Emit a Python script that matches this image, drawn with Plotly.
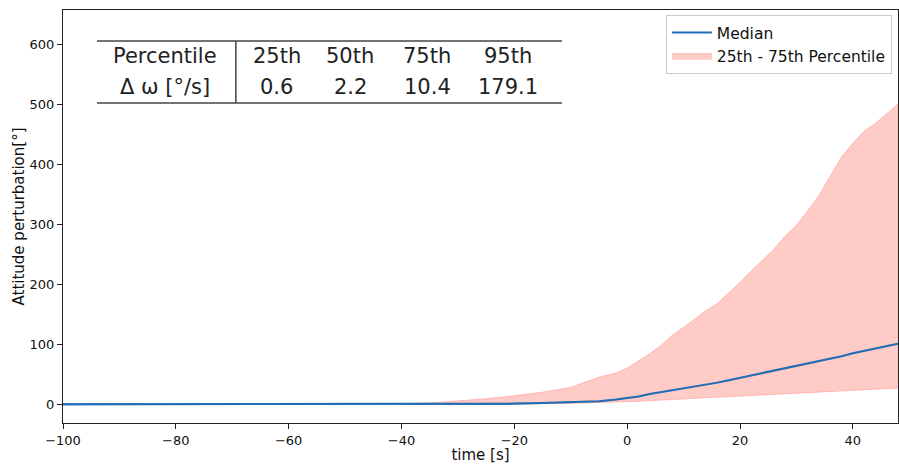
import plotly.graph_objects as go

# ---- data ----
time_s = [-100, -80, -60, -40, -35, -30, -25, -20, -15, -10, -5, -2, 0, 2, 4, 6, 8, 10, 12, 14, 16,
          18, 20, 22, 24, 26, 28, 30, 32, 34, 36, 38, 40, 42, 44, 46, 48]
median = [0, 0, 0, 0, 0.2, 0.4, 0.7, 1, 2, 3, 5, 8, 10, 13, 17, 20, 23, 26, 29, 32, 36,
          40, 44, 48, 52, 56, 60, 63, 67, 71, 76, 80, 85, 89, 93, 97, 101]
p25 = [0, 0, 0, 0, 0, 0.1, 0.3, 0.5, 1, 1.5, 2.5, 3.3, 4, 5, 6, 7, 8, 9, 10, 11, 12,
       13, 14, 15, 16, 17, 18, 19, 20, 21, 22, 23, 24, 25, 25.5, 26.5, 27]
p75 = [0, 0, 0, 0.5, 2, 5, 9, 14, 20, 28, 45, 52, 60, 72, 84, 98, 115, 128, 142, 156, 168,
       185, 203, 222, 240, 258, 280, 298, 322, 348, 380, 412, 435, 455, 468, 484, 500]

table_header = ["Percentile", "25th", "50th", "75th", "95th"]
table_values = ["\u0394 \u03c9 [°/s]", "0.6", "2.2", "10.4", "179.1"]

band_color = "rgba(255,190,185,0.8)"
line_color = "#1f6db5"

fig = go.Figure()
fig.add_trace(go.Scatter(x=time_s, y=median, mode="lines",
                         line=dict(color=line_color, width=2),
                         name="Median", legendrank=1))
fig.add_trace(go.Scatter(x=time_s, y=p25, mode="lines",
                         line=dict(color="rgba(255,170,165,0.8)", width=1),
                         showlegend=False, hoverinfo="skip"))
fig.add_trace(go.Scatter(x=time_s, y=p75, mode="lines", fill="tonexty",
                         fillcolor=band_color,
                         line=dict(color="rgba(255,170,165,0.8)", width=1),
                         name="25th - 75th Percentile", legendrank=2))
# redraw median on top of the band
fig.add_trace(go.Scatter(x=time_s, y=median, mode="lines",
                         line=dict(color=line_color, width=2),
                         showlegend=False, hoverinfo="skip"))

# ---- table drawn as annotations/shapes in paper coordinates ----
col_x = [0.122, 0.256, 0.344, 0.436, 0.533]
row_y = [0.888, 0.814]
tfont = dict(family="DejaVu Sans", size=21, color="#222")
for cx, h, v in zip(col_x, table_header, table_values):
    fig.add_annotation(x=cx, y=row_y[0], xref="paper", yref="paper", text=h,
                       showarrow=False, font=tfont, xanchor="center", yanchor="middle")
    fig.add_annotation(x=cx, y=row_y[1], xref="paper", yref="paper", text=v,
                       showarrow=False, font=tfont, xanchor="center", yanchor="middle")
tl = dict(color="#444", width=1.5)
fig.add_shape(type="line", xref="paper", yref="paper", x0=0.0407, x1=0.5976, y0=0.925, y1=0.925, line=tl)
fig.add_shape(type="line", xref="paper", yref="paper", x0=0.0407, x1=0.5976, y0=0.775, y1=0.775, line=tl)
fig.add_shape(type="line", xref="paper", yref="paper", x0=0.207, x1=0.207, y0=0.775, y1=0.925, line=tl)

axis_common = dict(showline=True, linecolor="#222", linewidth=1, mirror=True,
                   ticks="outside", ticklen=5, tickcolor="#222", showgrid=False,
                   zeroline=False, automargin=False,
                   tickfont=dict(family="DejaVu Sans", size=13, color="#111"))

fig.update_layout(
    width=899, height=464,
    margin=dict(l=63, r=1, t=10, b=41),
    paper_bgcolor="white", plot_bgcolor="white",
    font=dict(family="DejaVu Sans", color="#111"),
    legend=dict(x=0.722, y=0.988, xanchor="left", yanchor="top", traceorder="normal",
                bgcolor="rgba(255,255,255,0.9)", bordercolor="#ccc", borderwidth=1,
                font=dict(family="DejaVu Sans", size=15.5, color="#111"),
                tracegroupgap=0, itemwidth=40),
    xaxis=dict(range=[-100, 48], tickvals=[-100, -80, -60, -40, -20, 0, 20, 40],
               title=dict(text="time [s]", font=dict(size=15), standoff=2), **axis_common),
    yaxis=dict(range=[-31.3, 657], tickvals=[0, 100, 200, 300, 400, 500, 600],
               title=dict(text="Attitude perturbation[°]", font=dict(size=15), standoff=1),
               **axis_common),
)

fig.write_html("out.html", config={"displayModeBar": False},
               post_script="document.body.style.margin='0';document.body.style.overflow='hidden';")
